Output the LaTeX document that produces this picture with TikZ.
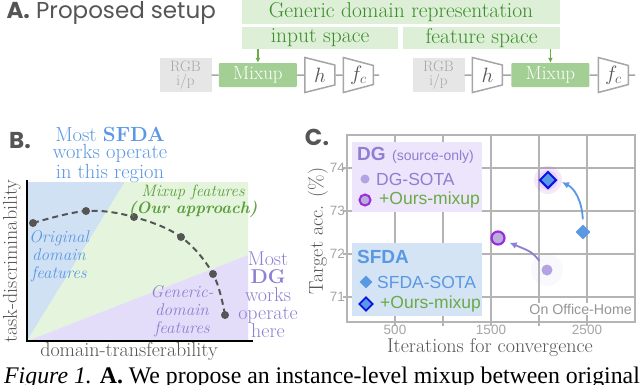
\documentclass[tikz,border=0pt]{standalone}
\usepackage{fontspec}
\setsansfont{Liberation Sans}
\newfontfamily\panelfont{Poppins}
\newfontfamily\captionfont{Liberation Serif}
\usepackage{xcolor}
\usetikzlibrary{positioning,arrows.meta,shapes.geometric}

\definecolor{gengreen}{HTML}{DDEFD7}
\definecolor{gentext}{HTML}{3C8C2C}
\definecolor{mixgreen}{HTML}{A3CF95}
\definecolor{rgbgray}{HTML}{E6E6E6}
\definecolor{linegray}{HTML}{A6A6A6}
\definecolor{gridgray}{HTML}{B4B4B4}
\definecolor{labelgray}{HTML}{555555}
\definecolor{sfdablue}{HTML}{5A98E4}
\definecolor{regblue}{HTML}{D0E1F4}
\definecolor{reggreen}{HTML}{E5F5DD}
\definecolor{regpurple}{HTML}{E4DDFA}
\definecolor{dgpurple}{HTML}{8D7FD2}
\definecolor{mixtext}{HTML}{5A9E3C}
\definecolor{oursgreen}{HTML}{6BAA45}
\definecolor{ringpurple}{HTML}{9B2BE0}
\definecolor{ringfill}{HTML}{B9AEDA}
\definecolor{dotpurple}{HTML}{B3A3E3}
\definecolor{darkblue}{HTML}{0A14E6}
\definecolor{dgbox}{HTML}{ECE5FB}
\definecolor{sfdabox}{HTML}{D4E4F5}

\begin{document}
\begin{tikzpicture}[
    x=1pt, y=-1pt,
    panel/.style={font=\panelfont\fontsize{23}{23}\selectfont, text=labelgray},
    genbox/.style={fill=gengreen, text=gentext, inner sep=0pt, font=\fontsize{21.5}{21.5}\selectfont},
    rgbbox/.style={fill=rgbgray, text=linegray, align=center, minimum width=52pt, minimum height=34pt, inner sep=0pt, font=\fontsize{15}{13.5}\selectfont},
    mixbox/.style={fill=mixgreen, text=white, rounded corners=1pt, minimum width=78pt, minimum height=24pt, inner sep=0pt, font=\fontsize{19}{19}\selectfont},
    netblock/.style={trapezium, shape border rotate=270, trapezium angle=65, trapezium stretches=true, draw=linegray, line width=1.5pt, fill=white, text=labelgray, minimum width=35pt, minimum height=30pt, inner sep=0pt, font=\fontsize{20}{20}\selectfont},
    link/.style={draw=linegray, line width=1.5pt},
    garr/.style={-{Latex[length=5pt,width=5pt]}, draw=oursgreen, line width=1.5pt},
    note/.style={align=center, inner sep=0pt, font=\fontsize{17}{18}\selectfont\itshape},
    bignote/.style={align=center, inner sep=0pt, font=\fontsize{20.5}{17}\selectfont},
    axlabel/.style={text=labelgray, inner sep=0pt, font=\fontsize{20}{20}\selectfont},
    tbdot/.style={circle, fill=labelgray, minimum size=8pt, inner sep=0pt},
    tradeoff/.style={draw=labelgray, line width=2pt, dash pattern=on 6pt off 4pt},
    grid/.style={draw=gridgray, line width=1.5pt},
    tick/.style={text=linegray, inner sep=0pt, font=\sffamily\fontsize{13.5}{13.5}\selectfont},
    legtext/.style={inner sep=0pt, font=\sffamily\fontsize{17.5}{17.5}\selectfont},
    dgsota/.style={circle, fill=dotpurple, minimum size=11pt, inner sep=0pt},
    dgours/.style={circle, fill=ringfill, draw=ringpurple, line width=2.2pt, minimum size=13pt, inner sep=0pt},
    sfdasota/.style={diamond, fill=sfdablue, minimum size=15pt, inner sep=0pt},
    sfdaours/.style={diamond, fill=sfdablue, draw=darkblue, line width=2pt, minimum size=17pt, inner sep=0pt},
    parr/.style={-{Latex[length=7pt,width=7pt]}, line width=1.8pt}
]
    \path[use as bounding box, fill=white] (0,0) rectangle (640,384);

    % A: setup
    \node[panel, anchor=west] (labA) at (3,13) {\bfseries A.\mdseries\ Proposed setup};
    \node[genbox, minimum width=318pt, minimum height=24pt] (generic) at (401,12) {Generic domain representation};
    \node[genbox, minimum width=156pt, minimum height=22pt] (inspace) at (320,38) {input space};
    \node[genbox, minimum width=157pt, minimum height=22pt] (featspace) at (481.5,38) {feature space};

    \node[rgbbox] (rgbA) at (185.5,75) {RGB\\i/p};
    \node[mixbox, right=7pt of rgbA] (mixA) {Mixup};
    \node[netblock, right=7pt of mixA] (hA) {$h$};
    \node[netblock, right=7pt of hA] (fcA) {$f_c$};
    \coordinate[right=5pt of fcA] (endA);
    \draw[link] (rgbA) -- (mixA) -- (hA) -- (fcA) -- (endA);
    \draw[garr] (inspace.south -| mixA.north) -- (mixA.north);

    \node[rgbbox] (rgbB) at (438.5,75) {RGB\\i/p};
    \node[netblock, right=7pt of rgbB] (hB) {$h$};
    \node[mixbox, right=8pt of hB] (mixB) {Mixup};
    \node[netblock, right=8pt of mixB] (fcB) {$f_c$};
    \coordinate[right=6pt of fcB] (endB);
    \draw[link] (rgbB) -- (hB) -- (mixB) -- (fcB) -- (endB);
    \draw[garr] (featspace.south -| mixB.north) -- (mixB.north);

    % B: trade-off
    \node[panel] (labB) at (20,141) {\bfseries B.};
    \fill[regblue] (27,341) -- (27,182) -- (125,182) -- cycle;
    \fill[reggreen] (27,341) -- (125,182) -- (248,182) -- (248,255) -- cycle;
    \fill[regpurple] (27,341) -- (248,255) -- (248,341) -- cycle;
    \draw[line width=1.2pt] (27,180) -- (27,341) -- (253,341);
    \foreach \n/\px/\py in {1/33/223, 2/86/211, 3/134/217, 4/181/237, 5/213/274, 6/225/315}
        \coordinate (tb\n) at (\px,\py);
    \draw[tradeoff] plot[smooth, tension=0.6] coordinates {(tb1) (tb2) (tb3) (tb4) (tb5) (tb6)};
    \foreach \n in {1,...,6}
        \node[tbdot] (dot\n) at (tb\n) {};

    \node[bignote, text=sfdablue] (sfdanote) at (110,155) {Most \textbf{SFDA}\\works operate\\in this region};
    \node[note, text=sfdablue] (orignote) at (59,256) {Original\\domain\\features};
    \node[note, text=mixtext, font=\fontsize{16.5}{17.5}\selectfont\itshape] (mixnote) at (193,201) {Mixup features\\\textbf{(Our approach)}};
    \node[note, text=dgpurple] (genericnote) at (182,311) {Generic-\\domain\\features};
    \node[bignote, text=dgpurple, font=\fontsize{20}{18}\selectfont] (dgnote) at (268,295) {Most\\\textbf{DG}\\works\\operate\\here};
    \node[axlabel, rotate=90] (ylabB) at (12,261) {task-discriminability};
    \node[axlabel] (xlabB) at (129,352) {domain-transferability};

    % C: convergence
    \node[panel] (labC) at (317,137) {\bfseries C.};
    \foreach \gx in {395,443,491,539,587}
        \draw[grid] (\gx,135) -- (\gx,326);
    \foreach \gy in {168,211,254,297}
        \draw[grid] (343,\gy) -- (635,\gy);
    \draw[grid] (347,135) rectangle (635,322);
    \foreach \gx/\lab in {395/500, 491/1500, 587/2500}
        \node[tick] (xt\lab) at (\gx,330) {\lab};
    \foreach \gy/\lab in {168/74, 211/73, 254/72, 297/71}
        \node[tick, anchor=east] (yt\lab) at (345,\gy) {\lab};
    \node[axlabel, rotate=90] (ylabC) at (318,231) {Target acc. (\%)};
    \node[axlabel] (xlabC) at (490,347.5) {Iterations for convergence};

    \node[fill=dgbox, minimum width=130pt, minimum height=70pt, inner sep=0pt] (dglegend) at (417,177) {};
    \node[legtext, anchor=base west, text=dgpurple, font=\sffamily\bfseries\fontsize{19}{19}\selectfont] (dgtitle) at (357,160) {DG};
    \node[legtext, anchor=base west, text=dgpurple, font=\sffamily\fontsize{14}{14}\selectfont] (dgsub) at (392,160) {(source-only)};
    \node[dgsota, minimum size=9pt] (dgkeyA) at (365,179) {};
    \node[legtext, anchor=west, text=dgpurple] (dgkeyAtext) at (376,179) {DG-SOTA};
    \node[dgours, minimum size=11pt, line width=2pt] (dgkeyB) at (365,200) {};
    \node[legtext, anchor=west, text=oursgreen] (dgkeyBtext) at (379,200) {+Ours-mixup};

    \node[fill=sfdabox, minimum width=130pt, minimum height=73pt, inner sep=0pt] (sfdalegend) at (417,279.5) {};
    \node[legtext, anchor=base west, text=sfdablue, font=\sffamily\bfseries\fontsize{19}{19}\selectfont] (sfdatitle) at (357,263) {SFDA};
    \node[sfdasota, minimum size=13pt] (sfdakeyA) at (366,282) {};
    \node[legtext, anchor=west, text=sfdablue] (sfdakeyAtext) at (377,282) {SFDA-SOTA};
    \node[sfdaours, minimum size=14pt, line width=1.8pt] (sfdakeyB) at (366,304) {};
    \node[legtext, anchor=west, text=oursgreen] (sfdakeyBtext) at (380,304) {+Ours-mixup};

    \node[legtext, anchor=east, fill=white, inner sep=1pt, text=linegray!90!black, font=\sffamily\fontsize{14.2}{14.2}\selectfont] (dataset) at (633,309) {On Office-Home};

    \fill[dotpurple, opacity=0.07] (547,270) circle (16pt);
    \fill[ringpurple, opacity=0.10] (548,180) circle (14pt);
    \fill[ringpurple, opacity=0.10] (548,180) circle (10pt);
    \node[dgsota] (dgsotapt) at (547,270) {};
    \node[dgours] (dgourspt) at (498,238) {};
    \node[sfdasota] (sfdasotapt) at (583,232) {};
    \node[sfdaours] (sfdaourspt) at (548,180) {};
    \draw[parr, draw=dgpurple, shorten <=6pt, shorten >=5pt] (dgsotapt) .. controls (532,252) .. (dgourspt);
    \draw[parr, draw=sfdablue, shorten <=5pt, shorten >=5pt] (sfdasotapt.north) .. controls (582,200) and (574,188) .. (sfdaourspt.east);

    % caption
    \node[anchor=base west, inner sep=0pt, font=\captionfont\fontsize{23.8}{23.8}\selectfont] (caption) at (4,383) {\textit{Figure 1.} \textbf{A.} We propose an instance-level mixup between original};
\end{tikzpicture}
\end{document}
